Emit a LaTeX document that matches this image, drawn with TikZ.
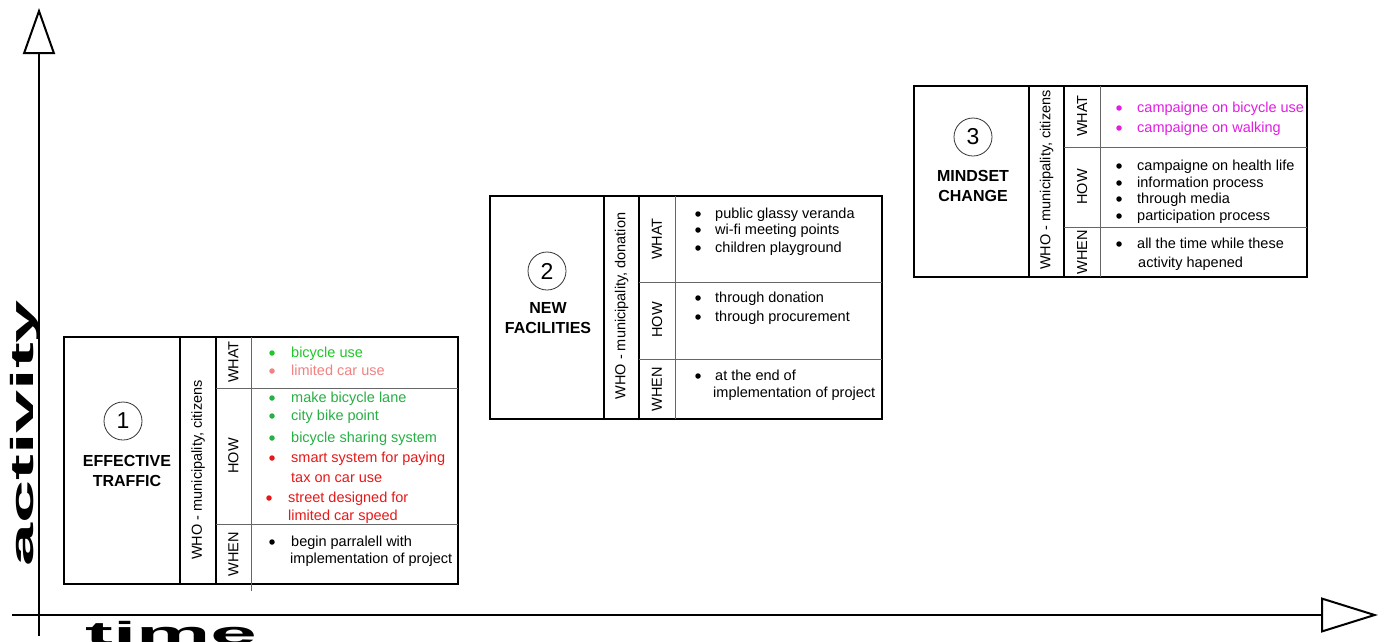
\documentclass[tikz,border=0pt]{standalone}
\usepackage{fontspec}
\setmainfont{Liberation Sans}
\usetikzlibrary{arrows.meta}
\definecolor{brightgreen}{RGB}{30,200,40}
\definecolor{leafgreen}{RGB}{40,175,70}
\definecolor{salmon}{RGB}{240,130,130}
\definecolor{tomato}{RGB}{230,25,25}
\definecolor{pinkish}{RGB}{225,30,225}
\tikzset{
  frame/.style={line width=2.6pt},
  grid/.style={line width=0.9pt, black!60},
  item/.style={anchor=mid west, inner sep=0pt, yshift=-2.5pt, font=\fontsize{14.5}{17}\selectfont},
  dot/.style={circle, fill, inner sep=0pt, minimum size=5.5pt, yshift=-1pt},
  hdr/.style={rotate=90, inner sep=0pt, font=\fontsize{14.5}{17}\selectfont},
  title/.style={align=center, inner sep=0pt, font=\bfseries\fontsize{16}{19.5}\selectfont},
  num/.style={circle, draw=black!80, line width=0.8pt, minimum size=38pt, inner sep=0pt, font=\fontsize{23}{23}\selectfont},
  axis/.style={line width=2pt},
  biglabel/.style={inner sep=0pt, font=\bfseries\fontsize{32}{32}\selectfont},
}
\begin{document}
\begin{tikzpicture}[x=1pt,y=-1pt]
\fill[white] (0,0) rectangle (1386,641);
\useasboundingbox (0,0) rectangle (1386,641);
% axes
\coordinate (ybot) at (39,636);
\coordinate (ytop) at (39,8);
\coordinate (xleft) at (12,615);
\coordinate (xright) at (1378,615);
\draw[axis, -{Triangle[open, length=46pt, width=32pt]}] (ybot) -- (ytop);
\draw[axis, -{Triangle[open, length=57pt, width=35pt]}] (xleft) -- (xright);
\node[biglabel, rotate=90, anchor=base west] (activity) at (33,567) {\scalebox{2.42}[1]{activity}};
\node[biglabel, anchor=base west] (time) at (85,644) {\scalebox{2.61}[1]{time}};

% box 1 - effective traffic
\draw[frame] (64,337) rectangle (458,584);
\draw[frame] (180,337) -- (180,584);
\draw[line width=1.2pt] (216,337) -- (216,584);
\draw[grid] (251,337) -- (251,591);
\draw[grid] (216,388) -- (458,388);
\draw[grid] (216,524) -- (458,524);
\node[num] (num1) at (123,421) {1};
\node[title] (title1) at (127,471) {EFFECTIVE\\TRAFFIC};
\node[hdr] (who1) at (198,470) {WHO - municipality, citizens};
\node[hdr] (what1) at (233.5,362) {WHAT};
\node[hdr] (how1) at (233.5,456) {HOW};
\node[hdr] (when1) at (233.5,554) {WHEN};
\foreach \y/\c/\t [count=\i] in {352/brightgreen/bicycle use, 370/salmon/limited car use,
    397/leafgreen/make bicycle lane, 415/leafgreen/city bike point,
    437/leafgreen/bicycle sharing system, 457/tomato/smart system for paying,
    541/black/begin parralell with} {
  \node[dot, \c] (d1-\i) at (272,\y) {};
  \node[item, \c] (t1-\i) at (291,\y) {\t};
}
\node[item, tomato] (t1-tax) at (291,477) {tax on car use};
\node[dot, tomato] (d1-street) at (269,497) {};
\node[item, tomato] (t1-street) at (288,497) {street designed for};
\node[item, tomato] (t1-speed) at (288,515) {limited car speed};
\node[item] (t1-impl) at (290,558) {implementation of project};

% box 2 - new facilities
\draw[frame] (490,196) rectangle (882,419);
\draw[frame] (604,196) -- (604,419);
\draw[line width=1.2pt] (639,196) -- (639,419);
\draw[grid] (675,196) -- (675,419);
\draw[grid] (639,282) -- (882,282);
\draw[grid] (639,359) -- (882,359);
\node[num] (num2) at (547,271) {2};
\node[title] (title2) at (548,318) {NEW\\FACILITIES};
\node[hdr] (who2) at (621.5,306) {WHO - municipality, donation};
\node[hdr] (what2) at (657,239) {WHAT};
\node[hdr] (how2) at (657,320) {HOW};
\node[hdr] (when2) at (657,389) {WHEN};
\foreach \y/\t [count=\i] in {213/public glassy veranda, 229/wi-fi meeting points,
    247/children playground, 297/through donation, 316/through procurement,
    375/at the end of} {
  \node[dot] (d2-\i) at (698,\y) {};
  \node[item] (t2-\i) at (715,\y) {\t};
}
\node[item] (t2-impl) at (713,392) {implementation of project};

% box 3 - mindset change
\draw[frame] (914,86) rectangle (1307,277);
\draw[frame] (1029,86) -- (1029,277);
\draw[line width=1.2pt] (1064,86) -- (1064,277);
\draw[grid] (1100,86) -- (1100,277);
\draw[grid] (1064,147) -- (1307,147);
\draw[grid] (1064,227) -- (1307,227);
\node[num] (num3) at (973,137) {3};
\node[title] (title3) at (973,186) {MINDSET\\CHANGE};
\node[hdr] (who3) at (1046.5,180) {WHO - municipality, citizens};
\node[hdr] (what3) at (1082,116) {WHAT};
\node[hdr] (how3) at (1082,187) {HOW};
\node[hdr] (when3) at (1082,252) {WHEN};
\foreach \y/\c/\t [count=\i] in {107/pinkish/campaigne on bicycle use,
    127/pinkish/campaigne on walking, 165/black/campaigne on health life,
    182/black/information process, 198/black/through media,
    215/black/participation process, 243/black/all the time while these} {
  \node[dot, \c] (d3-\i) at (1119,\y) {};
  \node[item, \c] (t3-\i) at (1137,\y) {\t};
}
\node[item] (t3-hap) at (1138,262) {activity hapened};
\end{tikzpicture}
\end{document}
